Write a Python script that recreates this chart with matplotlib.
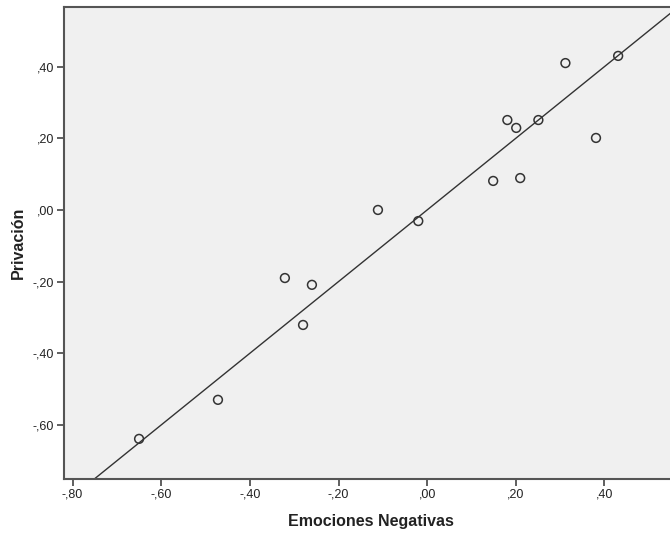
import matplotlib.pyplot as plt
import numpy as np

# data (Emociones Negativas vs Privación)
emociones = [-0.650, -0.472, -0.321, -0.260, -0.280, -0.111, -0.020,
             0.149, 0.210, 0.181, 0.201, 0.251, 0.312, 0.381, 0.431]
privacion = [-0.639, -0.530, -0.190, -0.209, -0.321, 0.000, -0.031,
             0.081, 0.089, 0.251, 0.229, 0.251, 0.410, 0.201, 0.430]

# fit line as drawn in the reference
fit_slope = 1.0
fit_intercept = 0.0

x_ticks = [-0.8, -0.6, -0.4, -0.2, 0.0, 0.2, 0.4]
y_ticks = [-0.6, -0.4, -0.2, 0.0, 0.2, 0.4]


def spss_fmt(v):
    s = f"{v:.2f}".replace(".", ",")
    s = s.replace("-0,", "-,").replace("0,", ",")
    return s


plt.rcParams["font.family"] = ["Liberation Sans", "DejaVu Sans"]

fig = plt.figure(figsize=(6.7, 5.36), dpi=100)
ax = fig.add_axes([0.0948, 0.107, 0.9052, 0.88])
ax.set_facecolor("#f0f0f0")

xlim = (-0.8205, 0.548)
ylim = (-0.75, 0.5666)

xx = np.array(xlim)
ax.plot(xx, fit_slope * xx + fit_intercept, color="#333333", linewidth=1.0, zorder=2)

ax.scatter(emociones, privacion, s=40, facecolors="none",
           edgecolors="#333333", linewidths=1.1, zorder=3)

ax.set_xlim(*xlim)
ax.set_ylim(*ylim)
ax.set_xticks(x_ticks)
ax.set_yticks(y_ticks)
ax.set_xticklabels([spss_fmt(v) for v in x_ticks])
ax.set_yticklabels([spss_fmt(v) for v in y_ticks])
ax.tick_params(direction="out", length=5, width=1.2, color="#444444",
               labelsize=9, labelcolor="#222222", pad=2)

for side in ["left", "bottom", "top"]:
    ax.spines[side].set_color("#555555")
    ax.spines[side].set_linewidth(1.5)
ax.spines["right"].set_visible(False)

ax.set_xlabel("Emociones Negativas", fontsize=11.5, fontweight="bold",
              color="#222222")
ax.set_ylabel("Privación", fontsize=11.5, fontweight="bold",
              color="#222222")
ax.xaxis.set_label_coords(0.507, -0.074)
ax.yaxis.set_label_coords(-0.062, 0.5)

fig.savefig("out.png", dpi=100)
